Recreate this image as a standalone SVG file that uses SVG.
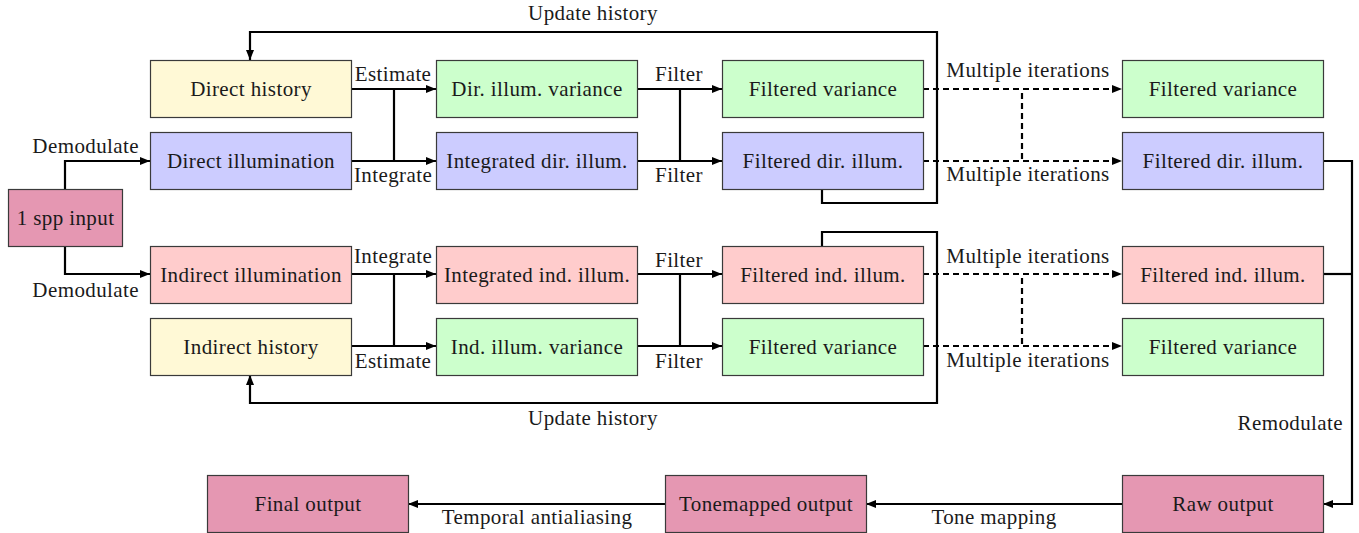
<svg xmlns="http://www.w3.org/2000/svg" width="1359" height="533" viewBox="0 0 1359 533" font-family="'Liberation Serif', 'DejaVu Serif', serif">
<style>
.box{stroke:#3a3a3a;stroke-width:1.2}
.y{fill:#FFF9D6}.b{fill:#CCCCFF}.g{fill:#CCFFCC}.r{fill:#FFCCCC}.p{fill:#E597B2}
text{font-family:'Liberation Serif', 'DejaVu Serif', serif;font-size:21px;fill:#1a1a1a;letter-spacing:0.4px}
.c{text-anchor:middle}.e{text-anchor:end}
.ln{fill:none;stroke:#000;stroke-width:2.2}
.d{stroke-dasharray:6 4}
</style>
<defs>
<marker id="ah" markerUnits="userSpaceOnUse" markerWidth="12" markerHeight="10" refX="10" refY="4" orient="auto">
<path d="M0,0 L10,4 L0,8 z" fill="#000"/>
</marker>
</defs>
<rect width="1359" height="533" fill="#fff"/>
<g id="connectors">
<path class="ln" d="M822,189 V203 H937 V32 H250 V60" marker-end="url(#ah)"/>
<path class="ln" d="M822,246 V232 H937 V403 H250 V375" marker-end="url(#ah)"/>
<path class="ln" d="M65,189 V161 H150" marker-end="url(#ah)"/>
<path class="ln" d="M65,246 V274 H150" marker-end="url(#ah)"/>
<path class="ln" d="M351,89 H436" marker-end="url(#ah)"/>
<path class="ln" d="M351,161 H436" marker-end="url(#ah)"/>
<path class="ln" d="M394,89 V161"/>
<path class="ln" d="M351,274 H436" marker-end="url(#ah)"/>
<path class="ln" d="M351,346 H436" marker-end="url(#ah)"/>
<path class="ln" d="M394,274 V346"/>
<path class="ln" d="M637,89 H722" marker-end="url(#ah)"/>
<path class="ln" d="M637,161 H722" marker-end="url(#ah)"/>
<path class="ln" d="M680,89 V161"/>
<path class="ln" d="M637,274 H722" marker-end="url(#ah)"/>
<path class="ln" d="M637,346 H722" marker-end="url(#ah)"/>
<path class="ln" d="M680,274 V346"/>
<path class="ln d" d="M923,89 H1122" marker-end="url(#ah)"/>
<path class="ln d" d="M923,161 H1122" marker-end="url(#ah)"/>
<path class="ln d" d="M1022,93 V161"/>
<path class="ln d" d="M923,274 H1122" marker-end="url(#ah)"/>
<path class="ln d" d="M923,346 H1122" marker-end="url(#ah)"/>
<path class="ln d" d="M1022,278 V346"/>
<path class="ln" d="M1323,161 H1352 V504 H1323" marker-end="url(#ah)"/>
<path class="ln" d="M1323,274 H1352"/>
<path class="ln" d="M1122,504 H866" marker-end="url(#ah)"/>
<path class="ln" d="M665,504 H408" marker-end="url(#ah)"/>
<text class="c" x="593" y="20">Update history</text>
<text class="c" x="593" y="425">Update history</text>
<text class="e" x="139" y="153">Demodulate</text>
<text class="e" x="139" y="297">Demodulate</text>
<text class="c" x="393" y="81">Estimate</text>
<text class="c" x="393" y="182">Integrate</text>
<text class="c" x="393" y="263">Integrate</text>
<text class="c" x="393" y="368">Estimate</text>
<text class="c" x="679" y="81">Filter</text>
<text class="c" x="679" y="182">Filter</text>
<text class="c" x="679" y="267">Filter</text>
<text class="c" x="679" y="368">Filter</text>
<text class="c" x="1028" y="77">Multiple iterations</text>
<text class="c" x="1028" y="181">Multiple iterations</text>
<text class="c" x="1028" y="263">Multiple iterations</text>
<text class="c" x="1028" y="367">Multiple iterations</text>
<text class="e" x="1343" y="430">Remodulate</text>
<text class="c" x="994" y="524">Tone mapping</text>
<text class="c" x="537" y="524">Temporal antialiasing</text>
</g>
<g id="n_input"><rect class="box p" x="8.5" y="189.5" width="114" height="57"/><text class="c" x="65.5" y="225">1 spp input</text></g>
<g id="n_dhist"><rect class="box y" x="150.5" y="60.5" width="201" height="57"/><text class="c" x="251" y="96">Direct history</text></g>
<g id="n_dillum"><rect class="box b" x="150.5" y="132.5" width="201" height="57"/><text class="c" x="251" y="168">Direct illumination</text></g>
<g id="n_iillum"><rect class="box r" x="150.5" y="246.5" width="201" height="57"/><text class="c" x="251" y="282">Indirect illumination</text></g>
<g id="n_ihist"><rect class="box y" x="150.5" y="318.5" width="201" height="57"/><text class="c" x="251" y="354">Indirect history</text></g>
<g id="n_dvar"><rect class="box g" x="436.5" y="60.5" width="201" height="57"/><text class="c" x="537" y="96">Dir. illum. variance</text></g>
<g id="n_dint"><rect class="box b" x="436.5" y="132.5" width="201" height="57"/><text class="c" x="537" y="168">Integrated dir. illum.</text></g>
<g id="n_iint"><rect class="box r" x="436.5" y="246.5" width="201" height="57"/><text class="c" x="537" y="282">Integrated ind. illum.</text></g>
<g id="n_ivar"><rect class="box g" x="436.5" y="318.5" width="201" height="57"/><text class="c" x="537" y="354">Ind. illum. variance</text></g>
<g id="n_fvar1"><rect class="box g" x="722.5" y="60.5" width="201" height="57"/><text class="c" x="823" y="96">Filtered variance</text></g>
<g id="n_fdir1"><rect class="box b" x="722.5" y="132.5" width="201" height="57"/><text class="c" x="823" y="168">Filtered dir. illum.</text></g>
<g id="n_find1"><rect class="box r" x="722.5" y="246.5" width="201" height="57"/><text class="c" x="823" y="282">Filtered ind. illum.</text></g>
<g id="n_fvar2"><rect class="box g" x="722.5" y="318.5" width="201" height="57"/><text class="c" x="823" y="354">Filtered variance</text></g>
<g id="n_fvar3"><rect class="box g" x="1122.5" y="60.5" width="201" height="57"/><text class="c" x="1223" y="96">Filtered variance</text></g>
<g id="n_fdir2"><rect class="box b" x="1122.5" y="132.5" width="201" height="57"/><text class="c" x="1223" y="168">Filtered dir. illum.</text></g>
<g id="n_find2"><rect class="box r" x="1122.5" y="246.5" width="201" height="57"/><text class="c" x="1223" y="282">Filtered ind. illum.</text></g>
<g id="n_fvar4"><rect class="box g" x="1122.5" y="318.5" width="201" height="57"/><text class="c" x="1223" y="354">Filtered variance</text></g>
<g id="n_raw"><rect class="box p" x="1122.5" y="475.5" width="201" height="57"/><text class="c" x="1223" y="511">Raw output</text></g>
<g id="n_tone"><rect class="box p" x="665.5" y="475.5" width="201" height="57"/><text class="c" x="766" y="511">Tonemapped output</text></g>
<g id="n_final"><rect class="box p" x="207.5" y="475.5" width="201" height="57"/><text class="c" x="308" y="511">Final output</text></g>
</svg>
